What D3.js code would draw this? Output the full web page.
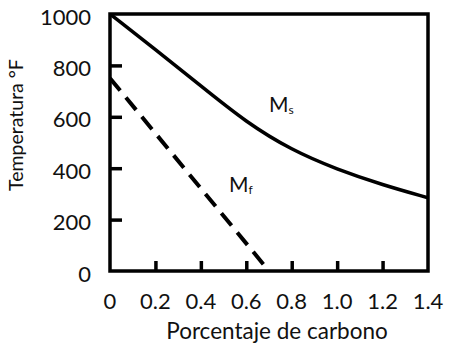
<!DOCTYPE html>
<html><head><meta charset="utf-8">
<script src="https://cdn.jsdelivr.net/npm/d3@7"></script>
<style>body{margin:0;background:#fff}svg{display:block}</style>
</head><body>
<script>
const xTicks = [0, 0.2, 0.4, 0.6, 0.8, 1.0, 1.2, 1.4];
const xTickLabels = ["0", "0.2", "0.4", "0.6", "0.8", "1.0", "1.2", "1.4"];
const yTicks = [0, 200, 400, 600, 800, 1000];
const msCarbon = [0, 0.2, 0.4, 0.6, 0.8, 1.0, 1.2, 1.4];
const msTemp = [1000, 862, 720, 578, 470, 395, 335, 285];
const mfCarbon = [0, 0.7];
const mfTemp = [750, 0];

const W = 449, H = 343;
const svg = d3.select("body").append("svg").attr("width", W).attr("height", H);
const font = "Lato, 'Open Sans', sans-serif";
const x = d3.scaleLinear().domain([0, 1.4]).range([110, 428]);
const y = d3.scaleLinear().domain([0, 1000]).range([271, 14]);

// inner ticks
const yAxis = d3.axisRight(y).tickValues(yTicks.slice(1, -1)).tickSize(12).tickFormat("");
const gy = svg.append("g").attr("transform", `translate(${x(0)},0)`).call(yAxis);
gy.select(".domain").remove();
gy.selectAll("line").attr("stroke", "#000").attr("stroke-width", 3.5);

const xAxis = d3.axisTop(x).tickValues(xTicks.slice(1, -1)).tickSize(10).tickFormat("");
const gx = svg.append("g").attr("transform", `translate(0,${y(0)})`).call(xAxis);
gx.select(".domain").remove();
gx.selectAll("line").attr("stroke", "#000").attr("stroke-width", 3.5);

// frame
svg.append("rect").attr("x", x(0)).attr("y", y(1000))
  .attr("width", x(1.4) - x(0)).attr("height", y(0) - y(1000))
  .attr("fill", "none").attr("stroke", "#000").attr("stroke-width", 3.5);

// tick labels
svg.append("g").selectAll("text").data(yTicks).join("text")
  .attr("x", 91).attr("y", d => y(d) + 5).attr("text-anchor", "end")
  .attr("dominant-baseline", "middle")
  .attr("font-family", font).attr("font-size", 22).attr("fill", "#111").text(d => d);
svg.append("g").selectAll("text").data(xTicks).join("text")
  .attr("x", d => x(d)).attr("y", 303).attr("text-anchor", "middle")
  .attr("dominant-baseline", "middle")
  .attr("font-family", font).attr("font-size", 22).attr("fill", "#111")
  .text((d, i) => xTickLabels[i]);

// titles
svg.append("text").attr("x", 277).attr("y", 333).attr("text-anchor", "middle")
  .attr("dominant-baseline", "middle")
  .attr("font-family", font).attr("font-size", 22.5).attr("fill", "#111").text("Porcentaje de carbono");
svg.append("text").attr("transform", "translate(18,125) rotate(-90)").attr("text-anchor", "middle")
  .attr("dominant-baseline", "middle")
  .attr("font-family", font).attr("font-size", 19.5).attr("fill", "#111").text("Temperatura °F");

// curves
const clipId = "clip";
svg.append("clipPath").attr("id", clipId).append("rect")
  .attr("x", x(0)).attr("y", y(1000)).attr("width", x(1.4) - x(0)).attr("height", y(0) - y(1000));
const line = d3.line().x(d => x(d[0])).y(d => y(d[1])).curve(d3.curveBasis);
svg.append("path").attr("d", line(msCarbon.map((c, i) => [c, msTemp[i]])))
  .attr("fill", "none").attr("stroke", "#000").attr("stroke-width", 3.5).attr("clip-path", `url(#${clipId})`);
svg.append("path").attr("d", d3.line().x(d => x(d[0])).y(d => y(d[1]))(mfCarbon.map((c, i) => [c, mfTemp[i]])))
  .attr("fill", "none").attr("stroke", "#000").attr("stroke-width", 4)
  .attr("stroke-dasharray", "16,9").attr("clip-path", `url(#${clipId})`);

// labels
function sublabel(px, py, main, sub) {
  const t = svg.append("text").attr("x", px).attr("y", py)
    .attr("font-family", font).attr("font-size", 21).attr("fill", "#111");
  t.append("tspan").text(main);
  t.append("tspan").attr("font-size", 12).attr("dy", 2).text(sub);
}
sublabel(269, 112, "M", "s");
sublabel(229, 192, "M", "f");
</script>
</body></html>
